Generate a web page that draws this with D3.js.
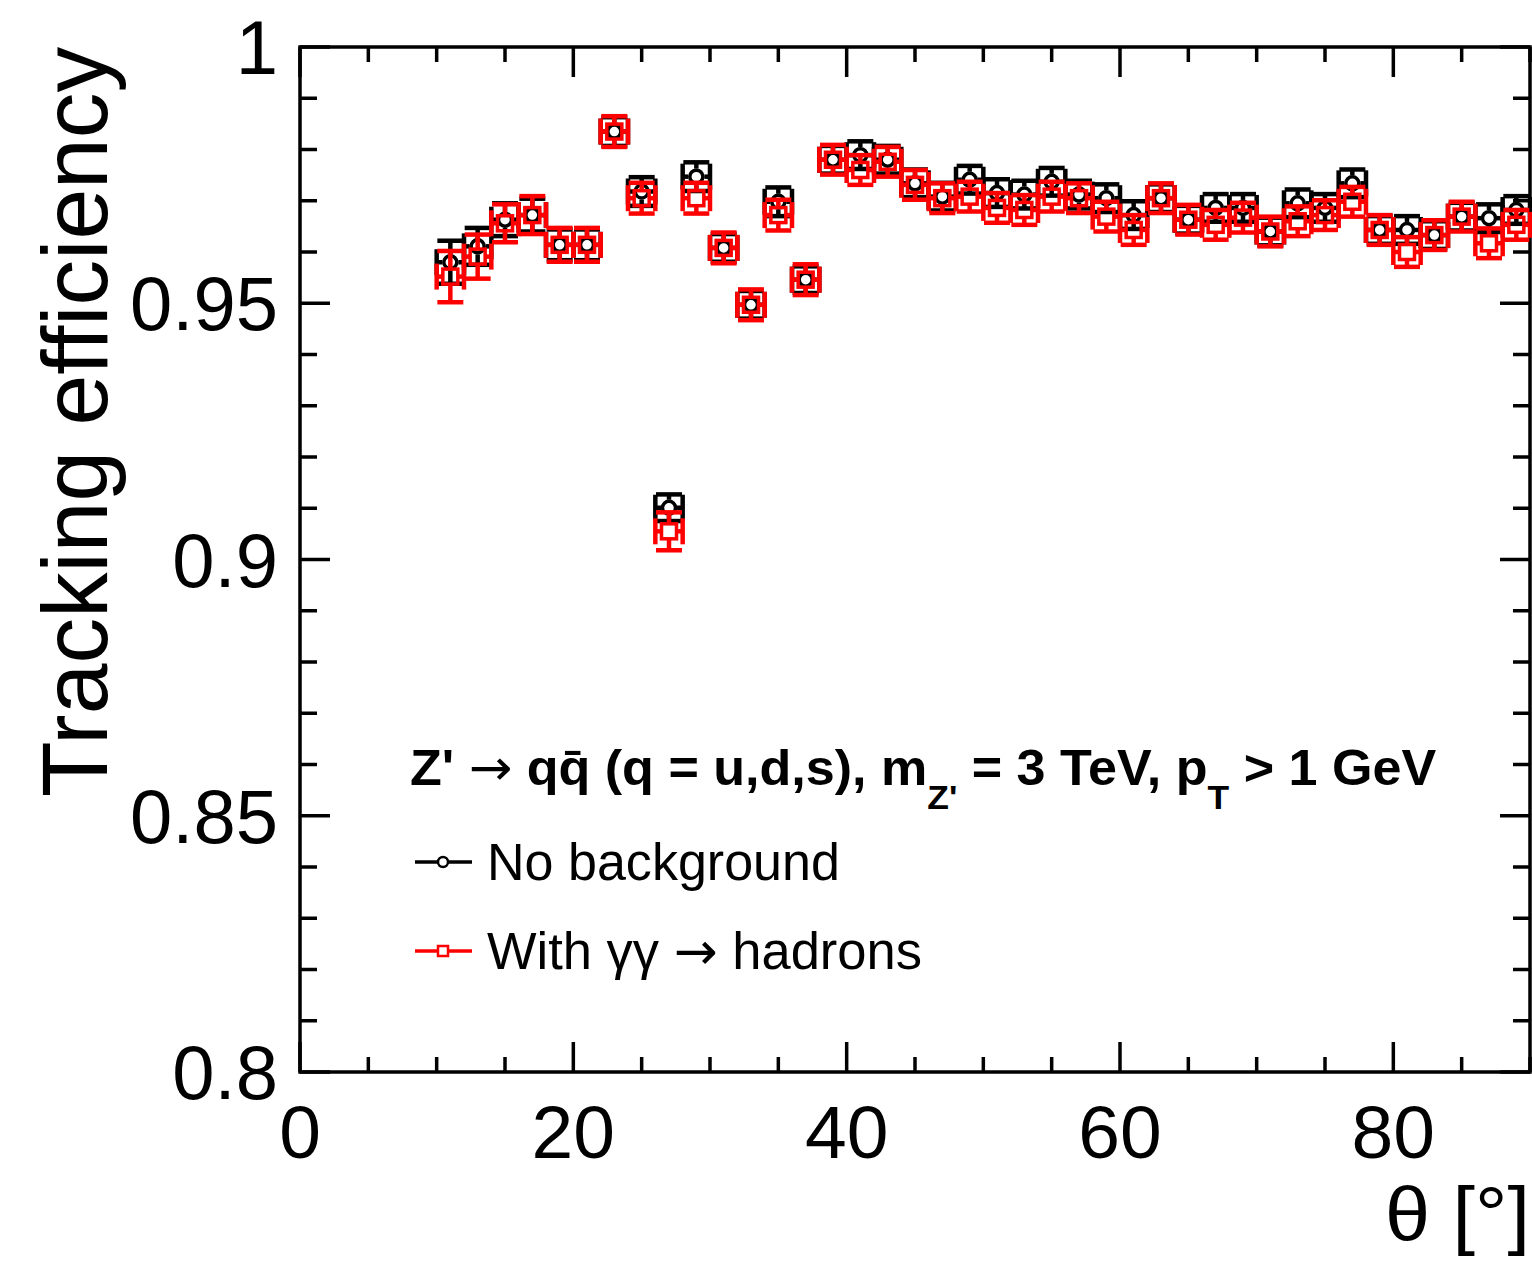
<!DOCTYPE html>
<html><head><meta charset="utf-8">
<script src="https://cdn.jsdelivr.net/npm/d3@7"></script>
<style>body{margin:0;background:#fff;} svg{display:block;} text{font-family:"Liberation Sans",Arial,Helvetica,"DejaVu Sans",sans-serif;}</style>
</head><body>
<svg id="c" width="1532" height="1262"></svg>
<script>
const theta = [11,13,15,17,19,21,23,25,27,29,31,33,35,37,39,41,43,45,47,49,51,53,55,57,59,61,63,65,67,69,71,73,75,77,79,81,83,85,87,89];
const effNoBkg = [0.9580,0.9611,0.9663,0.9672,0.9614,0.9614,0.9835,0.9718,0.9101,0.9747,0.9608,0.9497,0.9698,0.9546,0.9780,0.9789,0.9780,0.9734,0.9708,0.9741,0.9715,0.9712,0.9737,0.9712,0.9705,0.9672,0.9705,0.9663,0.9686,0.9686,0.9640,0.9695,0.9686,0.9734,0.9643,0.9643,0.9633,0.9669,0.9666,0.9682];
const errNoBkg = [0.0042,0.0036,0.0032,0.0032,0.0030,0.0030,0.0028,0.0028,0.0026,0.0028,0.0027,0.0027,0.0028,0.0026,0.0027,0.0027,0.0027,0.0027,0.0027,0.0027,0.0027,0.0027,0.0027,0.0027,0.0027,0.0027,0.0027,0.0027,0.0027,0.0027,0.0027,0.0027,0.0027,0.0027,0.0027,0.0027,0.0027,0.0027,0.0027,0.0027];
const effBkg = [0.9552,0.9591,0.9656,0.9672,0.9614,0.9614,0.9835,0.9705,0.9055,0.9705,0.9608,0.9497,0.9672,0.9546,0.9780,0.9760,0.9776,0.9731,0.9705,0.9708,0.9686,0.9682,0.9708,0.9705,0.9669,0.9643,0.9705,0.9663,0.9653,0.9667,0.9640,0.9660,0.9672,0.9698,0.9643,0.9600,0.9633,0.9669,0.9617,0.9653];
const errBkg = [0.0050,0.0043,0.0037,0.0037,0.0033,0.0033,0.0030,0.0030,0.0037,0.0030,0.0030,0.0030,0.0030,0.0030,0.0029,0.0029,0.0029,0.0029,0.0029,0.0029,0.0029,0.0029,0.0029,0.0029,0.0029,0.0029,0.0029,0.0029,0.0029,0.0029,0.0029,0.0029,0.0029,0.0029,0.0029,0.0029,0.0029,0.0029,0.0029,0.0029];
const binHalfWidth = 1;
const xTicks = [0,20,40,60,80];
const yTicks = [0.8,0.85,0.9,0.95,1];
const yTickLabels = ["0.8","0.85","0.9","0.95","1"];

const svg = d3.select("#c");
const L=300, R=1530, T=47, B=1072;
const x = d3.scaleLinear().domain([0,90]).range([L,R]);
const y = d3.scaleLinear().domain([0.8,1]).range([B,T]);

svg.append("rect").attr("x",L).attr("y",T).attr("width",R-L).attr("height",B-T)
  .attr("fill","none").attr("stroke","#000").attr("stroke-width",3.5);

const g = svg.append("g").attr("stroke","#000").attr("stroke-width",3.5);
d3.range(0,91,5).forEach(v=>{
  const major = v%20===0; const len = major?30:15;
  g.append("line").attr("x1",x(v)).attr("x2",x(v)).attr("y1",B).attr("y2",B-len);
  g.append("line").attr("x1",x(v)).attr("x2",x(v)).attr("y1",T).attr("y2",T+len);
});
d3.range(0,21).forEach(i=>{
  const v = 0.8+i*0.01; const major = i%5===0; const len = major?30:17;
  g.append("line").attr("y1",y(v)).attr("y2",y(v)).attr("x1",L).attr("x2",L+len);
  g.append("line").attr("y1",y(v)).attr("y2",y(v)).attr("x1",R).attr("x2",R-len);
});

svg.selectAll(".xl").data(xTicks).enter().append("text")
  .attr("x",d=>x(d)).attr("y",1158).attr("text-anchor","middle")
  .attr("font-size",75).text(d=>d);
svg.selectAll(".yl").data(yTicks).enter().append("text")
  .attr("x",278).attr("y",(d)=>y(d)+27).attr("text-anchor","end")
  .attr("font-size",76).text((d,i)=>yTickLabels[i]);

svg.append("text").attr("transform","translate(107,47) rotate(-90)")
  .attr("text-anchor","end").attr("font-size",92)
  .attr("textLength",750).attr("lengthAdjust","spacingAndGlyphs")
  .text("Tracking efficiency");
svg.append("text").attr("x",1530).attr("y",1240).attr("text-anchor","end")
  .attr("font-size",76).attr("textLength",145).attr("lengthAdjust","spacingAndGlyphs").text("θ [°]");

const xr = x(binHalfWidth)-x(0);
function drawSeries(vals, errs, color, marker){
  const gg = svg.append("g").attr("stroke",color).attr("stroke-width",4.5).attr("fill","none");
  const ms = 8, cap = 13;
  theta.forEach((t,i)=>{
    const cx = x(t), cy = y(vals[i]);
    const yt = y(vals[i]+errs[i]), yb = y(vals[i]-errs[i]);
    gg.append("line").attr("x1",cx-xr).attr("x2",cx-ms).attr("y1",cy).attr("y2",cy);
    gg.append("line").attr("x1",cx+ms).attr("x2",cx+xr).attr("y1",cy).attr("y2",cy);
    gg.append("line").attr("x1",cx-xr).attr("x2",cx-xr).attr("y1",cy-cap).attr("y2",cy+cap);
    gg.append("line").attr("x1",cx+xr).attr("x2",cx+xr).attr("y1",cy-cap).attr("y2",cy+cap);
    if (cy-yt > ms) gg.append("line").attr("x1",cx).attr("x2",cx).attr("y1",yt).attr("y2",cy-ms);
    if (yb-cy > ms) gg.append("line").attr("x1",cx).attr("x2",cx).attr("y1",cy+ms).attr("y2",yb);
    gg.append("line").attr("x1",cx-cap).attr("x2",cx+cap).attr("y1",yt).attr("y2",yt);
    gg.append("line").attr("x1",cx-cap).attr("x2",cx+cap).attr("y1",yb).attr("y2",yb);
    if (marker==="circle") gg.append("circle").attr("cx",cx).attr("cy",cy).attr("r",6.5).attr("stroke-width",3.5);
    else gg.append("rect").attr("x",cx-7.5).attr("y",cy-7.5).attr("width",15).attr("height",15).attr("stroke-width",3.5);
  });
}
drawSeries(effNoBkg, errNoBkg, "#000", "circle");
drawSeries(effBkg, errBkg, "#ff0000", "square");

const hdr = svg.append("text").attr("font-size",50).attr("font-weight","bold");
hdr.append("tspan").text("Z' ");
hdr.append("tspan").attr("font-weight","normal").attr("font-family","DejaVu Sans").text("\u2192");
hdr.append("tspan").text(" q\u0071\u0304 (q = u,d,s), m");
hdr.append("tspan").attr("font-size",34).attr("dy",24).text("Z'");
hdr.append("tspan").attr("dy",-24).text(" = 3 TeV, p");
hdr.append("tspan").attr("font-size",34).attr("dy",24).text("T");
hdr.append("tspan").attr("dy",-24).text(" > 1 GeV");
const hw = hdr.node().getBBox().width;
hdr.attr("transform",`translate(410,785) scale(${1027/hw},1)`);

const legend = [{label:["No background"], color:"#000", marker:"circle", yc:862, w:353},
                {label:["With \u03b3\u03b3 ","\u2192"," hadrons"], color:"#ff0000", marker:"square", yc:951, w:435}];
legend.forEach(e=>{
  const lg = svg.append("g");
  lg.append("line").attr("x1",415).attr("x2",472).attr("y1",e.yc).attr("y2",e.yc)
    .attr("stroke",e.color).attr("stroke-width",3.5);
  if (e.marker==="circle") lg.append("circle").attr("cx",443).attr("cy",e.yc).attr("r",5)
    .attr("fill","#fff").attr("stroke",e.color).attr("stroke-width",2.5);
  else lg.append("rect").attr("x",438).attr("y",e.yc-5).attr("width",10).attr("height",10)
    .attr("fill","#fff").attr("stroke",e.color).attr("stroke-width",2.5);
  const t = lg.append("text").attr("font-size",52);
  e.label.forEach(s=>{
    const sp = t.append("tspan").text(s);
    if (s==="\u2192") sp.attr("font-family","DejaVu Sans");
  });
  const w = t.node().getBBox().width;
  t.attr("transform",`translate(487,${e.yc+18}) scale(${e.w/w},1)`);
});
</script>
</body></html>
